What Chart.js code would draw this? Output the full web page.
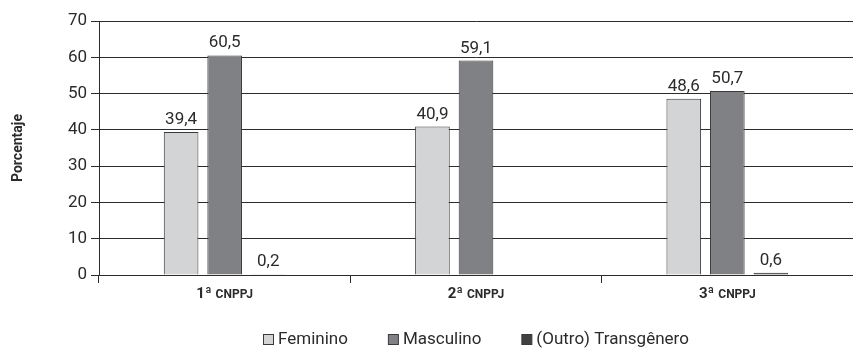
<!DOCTYPE html>
<html>
<head>
<meta charset="utf-8">
<script src="https://cdn.jsdelivr.net/npm/chart.js@4/dist/chart.umd.min.js"></script>
<style>
  html, body { margin: 0; padding: 0; background: #fff; }
  #wrap { width: 853px; height: 349px; position: relative; }
</style>
</head>
<body>
<div id="wrap"><canvas id="c"></canvas></div>
<script>
const categoryNumbers = ['1ª', '2ª', '3ª'];
const categoryName = 'CNPPJ';
const categories = categoryNumbers.map(n => n + ' ' + categoryName);
const feminino = [39.4, 40.9, 48.6];
const masculino = [60.5, 59.1, 50.7];
const transgenero = [0.2, null, 0.6];
const seriesNames = ['Feminino', 'Masculino', '(Outro) Transgênero'];
const yTicks = [0, 10, 20, 30, 40, 50, 60, 70];

const FONT = "Roboto, 'DejaVu Sans', sans-serif";
const INK = '#2b2b2b';
const EDGE = '#3a3a3a';

// value labels above each bar, decimal comma
const valueLabels = {
  id: 'valueLabels',
  afterDatasetsDraw(chart) {
    const ctx = chart.ctx;
    ctx.save();
    ctx.font = '17px ' + FONT;
    ctx.fillStyle = INK;
    ctx.textAlign = 'center';
    ctx.textBaseline = 'alphabetic';
    chart.data.datasets.forEach((ds, i) => {
      const meta = chart.getDatasetMeta(i);
      meta.data.forEach((bar, j) => {
        const v = ds.data[j];
        if (v === null || v === undefined) return;
        ctx.fillText(v.toFixed(1).replace('.', ','), bar.x, bar.y - 8);
      });
    });
    ctx.restore();
  }
};

// category labels: large ordinal, small-caps style name
const categoryLabels = {
  id: 'categoryLabels',
  afterDraw(chart) {
    const ctx = chart.ctx;
    const xs = chart.scales.x;
    const y = xs.top + 23;
    ctx.save();
    ctx.fillStyle = INK;
    ctx.textBaseline = 'alphabetic';
    ctx.textAlign = 'left';
    categoryNumbers.forEach((num, i) => {
      const cx = xs.getPixelForValue(i);
      ctx.font = 'bold 15px ' + FONT;
      const w1 = ctx.measureText(num).width;
      ctx.font = 'bold 12px ' + FONT;
      const gap = 4;
      const w2 = ctx.measureText(categoryName).width;
      const start = cx - (w1 + gap + w2) / 2;
      ctx.font = 'bold 15px ' + FONT;
      ctx.fillText(num, start, y);
      ctx.font = 'bold 12px ' + FONT;
      ctx.fillText(categoryName, start + w1 + gap, y);
    });
    ctx.restore();
  }
};

// legend row along the bottom
const bottomLegend = {
  id: 'bottomLegend',
  afterDraw(chart) {
    const ctx = chart.ctx;
    const box = 10, textGap = 5, itemGap = 40;
    const cy = 339;
    ctx.save();
    ctx.font = '17px ' + FONT;
    const items = chart.data.datasets.map(ds => ({
      text: ds.label, color: ds.backgroundColor, w: box + textGap + ctx.measureText(ds.label).width
    }));
    const total = items.reduce((s, it) => s + it.w, 0) + itemGap * (items.length - 1);
    const area = chart.chartArea;
    const center = (area.left + Math.min(area.right, chart.width)) / 2;
    let x = Math.round(center - total / 2);
    items.forEach(it => {
      ctx.fillStyle = it.color;
      ctx.fillRect(x + 0.5, cy - box / 2 + 0.5, box, box);
      ctx.strokeStyle = EDGE;
      ctx.lineWidth = 1;
      ctx.strokeRect(x + 0.5, cy - box / 2 + 0.5, box, box);
      ctx.fillStyle = INK;
      ctx.textBaseline = 'middle';
      ctx.textAlign = 'left';
      ctx.fillText(it.text, x + box + textGap, cy + 1);
      x += it.w + itemGap;
    });
    ctx.restore();
  }
};

new Chart(document.getElementById('c'), {
  type: 'bar',
  data: {
    labels: categories,
    datasets: [
      { label: seriesNames[0], data: feminino, backgroundColor: '#d3d4d6', borderColor: EDGE, borderWidth: 1 },
      { label: seriesNames[1], data: masculino, backgroundColor: '#808184', borderColor: EDGE, borderWidth: 1 },
      { label: seriesNames[2], data: transgenero, backgroundColor: '#414143', borderColor: EDGE, borderWidth: 1 }
    ]
  },
  options: {
    responsive: true,
    maintainAspectRatio: false,
    animation: false,
    categoryPercentage: 0.52,
    barPercentage: 0.795,
    layout: { padding: { top: 21, right: -8, bottom: 0, left: 0 } },
    plugins: {
      tooltip: { enabled: false },
      legend: { display: false }
    },
    scales: {
      x: {
        grid: { display: true, drawOnChartArea: false, offset: true, color: INK, tickLength: 8 },
        border: { display: true, color: INK, width: 1 },
        ticks: { color: 'rgba(0,0,0,0)', font: { size: 12 } },
        afterFit(scale) { scale.height = 74; }
      },
      y: {
        min: 0,
        max: 70,
        afterBuildTicks(scale) { scale.ticks = yTicks.map(v => ({ value: v })); },
        grid: { color: INK, lineWidth: 1, tickLength: 8 },
        border: { display: true, color: INK, width: 1 },
        ticks: { font: { family: FONT, size: 17 }, color: INK, padding: 4 },
        title: { display: true, text: 'Porcentaje', font: { family: FONT, size: 14, weight: 'bold' }, color: INK, padding: { top: 10, bottom: 0 } },
        afterFit(scale) { scale.width = 99; }
      }
    }
  },
  plugins: [valueLabels, categoryLabels, bottomLegend]
});
</script>
</body>
</html>
